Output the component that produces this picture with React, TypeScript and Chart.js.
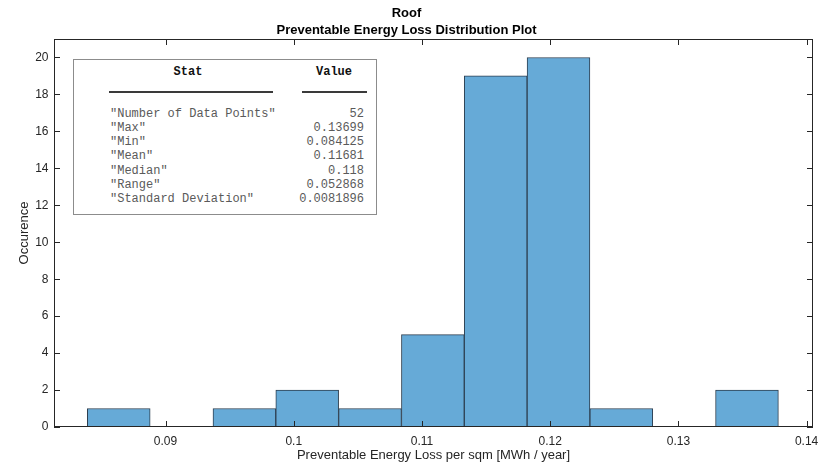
import React, { useEffect, useRef } from 'react';
import { Chart, registerables } from 'chart.js';

Chart.register(...registerables);

// ---- data ----
const binEdges = [0.0839, 0.0888, 0.0937, 0.0986, 0.1035, 0.1084, 0.1133, 0.1182, 0.1231, 0.128, 0.1329, 0.1378];
const binCounts = [1, 0, 1, 2, 1, 5, 19, 20, 1, 0, 2];
const titleLines = ['Roof', 'Preventable Energy Loss Distribution Plot'];
const xAxisTitle = 'Preventable Energy Loss per sqm [MWh / year]';
const yAxisTitle = 'Occurence';
const xLimits = [0.0813, 0.1405];
const yLimits = [0, 21];
const xTickStep = 0.01;
const yTickStep = 2;
const statHeaders = ['Stat', 'Value'];
const statNames = [
  '"Number of Data Points"',
  '"Max"',
  '"Min"',
  '"Mean"',
  '"Median"',
  '"Range"',
  '"Standard Deviation"',
];
const statValues = ['52', '0.13699', '0.084125', '0.11681', '0.118', '0.052868', '0.0081896'];

const SANS = '"Liberation Sans", Arial, Helvetica, sans-serif';
const MONO = '"Liberation Mono", "Courier New", monospace';
const AXIS_COLOR = '#262626';

const matlabAxes = {
  id: 'matlabAxes',
  afterDatasetsDraw(chart: any) {
    const { ctx, chartArea, scales } = chart;
    const { left, right, top, bottom } = chartArea;
    const tick = 6;
    ctx.save();
    ctx.strokeStyle = AXIS_COLOR;
    ctx.lineWidth = 1;
    ctx.beginPath();
    for (const t of scales.x.ticks) {
      const px = Math.round(scales.x.getPixelForValue(t.value)) + 0.5;
      ctx.moveTo(px, bottom);
      ctx.lineTo(px, bottom - tick);
      ctx.moveTo(px, top);
      ctx.lineTo(px, top + tick);
    }
    for (const t of scales.y.ticks) {
      const py = Math.round(scales.y.getPixelForValue(t.value)) + 0.5;
      ctx.moveTo(left, py);
      ctx.lineTo(left + tick, py);
      ctx.moveTo(right, py);
      ctx.lineTo(right - tick, py);
    }
    ctx.stroke();
    ctx.strokeRect(left + 0.5, top + 0.5, right - left - 1, bottom - top - 1);
    ctx.restore();
  },
};

function fmt(v: number) {
  return String(Number(v.toFixed(4)));
}

function StatBox() {
  const rowTop = 46.5;
  const rowStep = 14.27;
  return (
    <div
      style={{
        position: 'absolute',
        left: 73,
        top: 59,
        width: 302,
        height: 154,
        border: '1px solid #8c8c8c',
        background: '#fff',
        fontFamily: MONO,
        fontSize: 12,
        lineHeight: '14px',
      }}
    >
      <span style={{ position: 'absolute', left: 114, top: 4.7, transform: 'translateX(-50%)', fontWeight: 'bold', color: '#111', whiteSpace: 'pre' }}>
        {statHeaders[0]}
      </span>
      <span style={{ position: 'absolute', left: 260, top: 4.7, transform: 'translateX(-50%)', fontWeight: 'bold', color: '#111', whiteSpace: 'pre' }}>
        {statHeaders[1]}
      </span>
      <div style={{ position: 'absolute', left: 35, top: 30.5, width: 164, height: 2, background: '#3a3a3a' }} />
      <div style={{ position: 'absolute', left: 228, top: 30.5, width: 65, height: 2, background: '#3a3a3a' }} />
      {statNames.map((n, i) => (
        <span key={'n' + i} style={{ position: 'absolute', left: 36, top: rowTop + i * rowStep, color: '#5a5a5a', whiteSpace: 'pre' }}>
          {n}
        </span>
      ))}
      {statValues.map((v, i) => (
        <span key={'v' + i} style={{ position: 'absolute', right: 12, top: rowTop + i * rowStep, color: '#5a5a5a', whiteSpace: 'pre' }}>
          {v}
        </span>
      ))}
    </div>
  );
}

export default function App() {
  const canvasRef = useRef<HTMLCanvasElement | null>(null);

  useEffect(() => {
    const canvas = canvasRef.current;
    if (!canvas) return;
    const data = binCounts.map((c, i) => ({
      x: (binEdges[i] + binEdges[i + 1]) / 2,
      y: c === 0 ? null : c,
    }));
    const chart = new Chart(canvas, {
      type: 'bar',
      data: {
        datasets: [
          {
            data: data as any,
            backgroundColor: '#66aad7',
            borderColor: '#2d3f50',
            borderWidth: 1,
            borderSkipped: false,
            barPercentage: 1,
            categoryPercentage: 1,
            grouped: false,
          },
        ],
      },
      options: {
        animation: false,
        responsive: false,
        devicePixelRatio: 1,
        layout: { padding: { left: 0, right: 26, top: 0, bottom: 0 } },
        plugins: {
          legend: { display: false },
          tooltip: { enabled: false },
          title: {
            display: true,
            text: titleLines,
            color: '#000',
            font: { family: SANS, size: 13, weight: 'bold', lineHeight: 16.7 / 13 },
            padding: { top: 5.5, bottom: 0.1 },
          },
        },
        scales: {
          x: {
            type: 'linear',
            offset: false,
            min: xLimits[0],
            max: xLimits[1],
            grid: { display: false, drawTicks: false, offset: false },
            border: { display: false },
            ticks: {
              stepSize: xTickStep,
              includeBounds: false,
              padding: 7.6,
              color: AXIS_COLOR,
              font: { family: SANS, size: 12 },
              maxRotation: 0,
              autoSkip: false,
              callback: (v: any) => fmt(Number(v)),
            },
            title: {
              display: true,
              text: xAxisTitle,
              color: AXIS_COLOR,
              font: { family: SANS, size: 13 },
              padding: { top: 0, bottom: 5.2 },
            },
            afterFit: (s: any) => {
              s.height = 41;
            },
          },
          y: {
            type: 'linear',
            min: yLimits[0],
            max: yLimits[1],
            grid: { display: false, drawTicks: false },
            border: { display: false },
            ticks: {
              stepSize: yTickStep,
              includeBounds: false,
              padding: 5.5,
              color: AXIS_COLOR,
              font: { family: SANS, size: 12 },
              autoSkip: false,
            },
            title: {
              display: true,
              text: yAxisTitle,
              color: AXIS_COLOR,
              font: { family: SANS, size: 13 },
              padding: { top: 16.2, bottom: 0 },
            },
            afterFit: (s: any) => {
              s.width = 54;
            },
          },
        },
      },
      plugins: [matlabAxes],
    });
    return () => chart.destroy();
  }, []);

  return (
    <div style={{ position: 'fixed', left: 0, top: 0, width: 839, height: 468, background: '#fff' }}>
      <canvas ref={canvasRef} width={839} height={468} style={{ display: 'block', width: 839, height: 468 }} />
      <StatBox />
    </div>
  );
}
